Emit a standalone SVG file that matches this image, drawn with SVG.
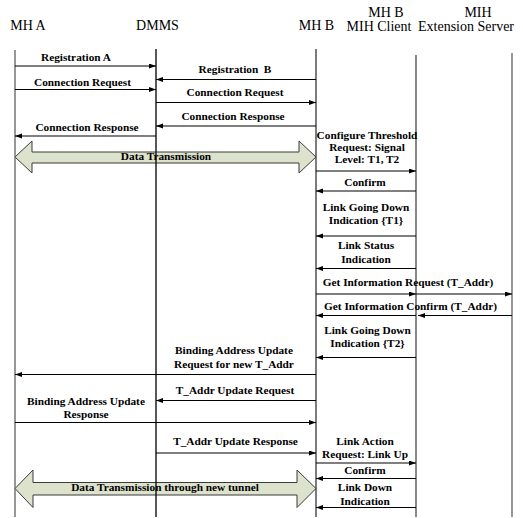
<svg xmlns="http://www.w3.org/2000/svg" width="523" height="518" viewBox="0 0 523 518">
  <defs>
    <marker id="head" markerUnits="userSpaceOnUse" markerWidth="8" markerHeight="6" refX="7" refY="2.5" orient="auto">
      <path d="M0,0 L7,2.5 L0,5 Z" fill="#000"/>
    </marker>
    <style>
      .hdr { font-family: "Liberation Serif", "Times New Roman", serif; font-size: 14px; fill: #000; text-anchor: middle; }
      .lbl { font-family: "Liberation Serif", "Times New Roman", serif; font-size: 11.3px; font-weight: bold; fill: #000; text-anchor: middle; }
      .msg { stroke: #000; stroke-width: 1.2; fill: none; marker-end: url(#head); }
      .life { stroke-width: 1.4; fill: none; }
      .block { fill: #dde2cd; stroke: #3a3a3a; stroke-width: 1; }
    </style>
  </defs>
  <rect width="523" height="518" fill="#fff"/>

  <!-- data transmission block arrows -->
  <g id="data-transmission">
    <path class="block" d="M15,157 L32,141 L32,152 L299,152 L299,141 L316,157 L299,173 L299,163 L32,163 L32,173 Z"/>
  </g>
  <g id="data-transmission-new-tunnel">
    <path class="block" d="M15,488.5 L33,470 L33,482.5 L297,482.5 L297,470 L316,488.5 L297,507.5 L297,495 L33,495 L33,507.5 Z"/>
  </g>

  <!-- participants with lifelines -->
  <g id="mh-a">
    <text class="hdr" x="28" y="30">MH A</text>
    <line class="life" x1="15" y1="50" x2="15" y2="517" stroke="#6a6a6a"/>
  </g>
  <g id="dmms">
    <text class="hdr" x="157.5" y="30">DMMS</text>
    <line class="life" x1="156" y1="49" x2="156" y2="517" stroke="#111"/>
  </g>
  <g id="mh-b">
    <text class="hdr" x="316.5" y="30">MH B</text>
    <line class="life" x1="316" y1="49" x2="316" y2="517" stroke="#444"/>
  </g>
  <g id="mih-client">
    <text class="hdr" x="386" y="16.5">MH B</text>
    <text class="hdr" x="379" y="30.5">MIH Client</text>
    <line class="life" x1="416" y1="55" x2="416" y2="517" stroke="#555"/>
  </g>
  <g id="mih-server">
    <text class="hdr" x="478" y="16.5">MIH</text>
    <text class="hdr" x="418" y="30.5" style="text-anchor:start">Extension Server</text>
    <line class="life" x1="512" y1="53" x2="512" y2="517" stroke="#6a6a6a"/>
  </g>

  <!-- messages -->
  <g id="connectors">
    <line class="msg" x1="15" y1="66" x2="156" y2="66"/>
    <line class="msg" x1="316" y1="79.5" x2="156" y2="79.5"/>
    <line class="msg" x1="15" y1="89.5" x2="156" y2="89.5"/>
    <line class="msg" x1="156" y1="102.5" x2="316" y2="102.5"/>
    <line class="msg" x1="316" y1="126" x2="156" y2="126"/>
    <line class="msg" x1="156" y1="136" x2="15" y2="136"/>
    <line class="msg" x1="316" y1="171" x2="416" y2="171"/>
    <line class="msg" x1="416" y1="191" x2="316" y2="191"/>
    <line class="msg" x1="416" y1="236" x2="316" y2="236"/>
    <line class="msg" x1="416" y1="268.5" x2="316" y2="268.5"/>
    <line class="msg" x1="316" y1="294" x2="416" y2="294"/>
    <line class="msg" x1="416" y1="294" x2="512" y2="294"/>
    <line class="msg" x1="512" y1="315.5" x2="418" y2="315.5"/>
    <line class="msg" x1="416" y1="315.5" x2="316" y2="315.5"/>
    <line class="msg" x1="416" y1="357.5" x2="316" y2="357.5"/>
    <line class="msg" x1="316" y1="374.5" x2="15" y2="374.5"/>
    <line class="msg" x1="316" y1="400.5" x2="156" y2="400.5"/>
    <line class="msg" x1="15" y1="422.5" x2="316" y2="422.5"/>
    <line class="msg" x1="156" y1="453" x2="316" y2="453"/>
    <line class="msg" x1="316" y1="463" x2="416" y2="463"/>
    <line class="msg" x1="416" y1="478.5" x2="316" y2="478.5"/>
    <line class="msg" x1="416" y1="507.5" x2="316" y2="507.5"/>
  </g>

  <!-- message labels -->
  <g id="labels">
    <text class="lbl" x="76" y="61">Registration A</text>
    <text class="lbl" x="235" y="73" style="white-space:pre">Registration  B</text>
    <text class="lbl" x="82.5" y="86">Connection Request</text>
    <text class="lbl" x="235" y="96">Connection Request</text>
    <text class="lbl" x="233" y="120">Connection Response</text>
    <text class="lbl" x="87" y="131">Connection Response</text>
    <text class="lbl" x="166" y="160">Data Transmission</text>
    <text class="lbl" x="367" y="138.5">Configure Threshold</text>
    <text class="lbl" x="367" y="150.5">Request: Signal</text>
    <text class="lbl" x="367" y="162.5">Level: T1, T2</text>
    <text class="lbl" x="365" y="186">Confirm</text>
    <text class="lbl" x="366" y="211">Link Going Down</text>
    <text class="lbl" x="366" y="224">Indication {T1}</text>
    <text class="lbl" x="366" y="249">Link Status</text>
    <text class="lbl" x="366" y="262.5">Indication</text>
    <text class="lbl" x="408" y="286">Get Information Request (T_Addr)</text>
    <text class="lbl" x="410.5" y="310">Get Information Confirm (T_Addr)</text>
    <text class="lbl" x="367.5" y="334">Link Going Down</text>
    <text class="lbl" x="367.5" y="347">Indication {T2}</text>
    <text class="lbl" x="234" y="354">Binding Address Update</text>
    <text class="lbl" x="234" y="368">Request for new T_Addr</text>
    <text class="lbl" x="235" y="394">T_Addr Update Request</text>
    <text class="lbl" x="86" y="405">Binding Address Update</text>
    <text class="lbl" x="86" y="418">Response</text>
    <text class="lbl" x="235.5" y="445">T_Addr Update Response</text>
    <text class="lbl" x="365" y="445">Link Action</text>
    <text class="lbl" x="365" y="458">Request: Link Up</text>
    <text class="lbl" x="365" y="474">Confirm</text>
    <text class="lbl" x="365" y="491">Link Down</text>
    <text class="lbl" x="365" y="505">Indication</text>
    <text class="lbl" x="165" y="491">Data Transmission through new tunnel</text>
  </g>
</svg>
